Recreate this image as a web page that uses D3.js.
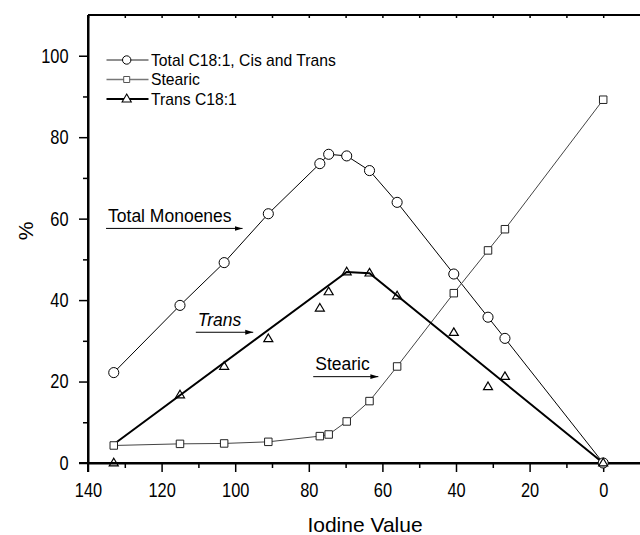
<!DOCTYPE html>
<html>
<head>
<meta charset="utf-8">
<script src="https://cdn.jsdelivr.net/npm/d3@7"></script>
<style>
  html, body { margin: 0; padding: 0; background: #fff; }
  svg { display: block; }
  .tick text { font-family: "Liberation Sans Narrow", "Arial Narrow", "Liberation Sans", Arial, sans-serif; }
</style>
</head>
<body>
<svg id="chart" width="640" height="535"></svg>
<script>
// ---- data ----
const iodineValues = [133, 115, 103, 91, 77, 74.6, 69.7, 63.5, 56, 40.6, 31.3, 26.7, 0];
const totalC181   = [22.2, 38.7, 49.2, 61.2, 73.5, 75.8, 75.4, 71.8, 64.0, 46.4, 35.8, 30.6, 0];
const stearic     = [4.3, 4.7, 4.8, 5.2, 6.6, 7.0, 10.2, 15.2, 23.7, 41.7, 52.2, 57.4, 89.2];
const transC181   = [0, 16.7, 23.7, 30.5, 38.0, 42.0, 46.9, 46.6, 41.0, 32.0, 18.7, 21.2, 0];
const transFitIV  = [133, 69.7, 63.5, 0];
const transFitVal = [4.6, 46.9, 46.6, 0];
const xMajorTicks = [140, 120, 100, 80, 60, 40, 20, 0];
const xMinorTicks = [130, 110, 90, 70, 50, 30, 10];
const yMajorTicks = [0, 20, 40, 60, 80, 100];
const yMinorTicks = [10, 30, 50, 70, 90];
const legendLabels = ["Total C18:1, Cis and Trans", "Stearic", "Trans C18:1"];
const annotations = [
  { text: "Total Monoenes", iv: 135.1, val: 57.6, ivEnd: 98.0, italic: false },
  { text: "Trans", iv: 110.7, val: 32.1, ivEnd: 95.1, italic: true },
  { text: "Stearic", iv: 78.8, val: 21.2, ivEnd: 61.1, italic: false }
];

// ---- layout ----
const svg = d3.select("#chart");
const mLeft = 88, mRight = 640, mTop = 15, mBottom = 463;
const x = d3.scaleLinear().domain([140, -10]).range([mLeft, mRight]);
const y = d3.scaleLinear().domain([0, 110]).range([mBottom, mTop]);
const font = "'Liberation Sans', Arial, sans-serif";

// arrow marker
svg.append("defs").append("marker")
  .attr("id", "arrow").attr("viewBox", "0 0 10 10")
  .attr("refX", 10).attr("refY", 5)
  .attr("markerWidth", 8).attr("markerHeight", 8)
  .attr("markerUnits", "userSpaceOnUse")
  .attr("orient", "auto")
  .append("path").attr("d", "M0,2 L10,5 L0,8 Z").attr("fill", "#000");

// top frame line
svg.append("line").attr("x1", mLeft).attr("x2", mRight).attr("y1", mTop).attr("y2", mTop)
  .attr("stroke", "#000").attr("stroke-width", 2);
const topAxis = svg.append("g").attr("transform", `translate(0,${mTop})`)
  .call(d3.axisTop(x).tickValues(xMajorTicks.concat(xMinorTicks)).tickSize(-3).tickFormat("").tickSizeOuter(0));
topAxis.select(".domain").remove();

// x axis
const xAxisG = svg.append("g").attr("transform", `translate(0,${mBottom})`)
  .call(d3.axisBottom(x).tickValues(xMajorTicks).tickSize(9).tickSizeOuter(0).tickPadding(11));
svg.append("g").attr("transform", `translate(0,${mBottom})`)
  .call(d3.axisBottom(x).tickValues(xMinorTicks).tickSize(5).tickFormat("").tickSizeOuter(0))
  .select(".domain").remove();
svg.append("line").attr("x1", mLeft - 9).attr("x2", mRight).attr("y1", mBottom).attr("y2", mBottom)
  .attr("stroke", "#000").attr("stroke-width", 2);

// y axis
const yAxisG = svg.append("g").attr("transform", `translate(${mLeft},0)`)
  .call(d3.axisLeft(y).tickValues(yMajorTicks).tickSize(9).tickSizeOuter(0).tickPadding(10.5));
svg.append("g").attr("transform", `translate(${mLeft},0)`)
  .call(d3.axisLeft(y).tickValues(yMinorTicks).tickSize(5).tickFormat("").tickSizeOuter(0))
  .select(".domain").remove();
svg.append("line").attr("x1", mLeft).attr("x2", mLeft).attr("y1", mTop).attr("y2", mBottom + 9)
  .attr("stroke", "#000").attr("stroke-width", 2);
svg.selectAll(".domain").attr("stroke-width", 2);
svg.selectAll(".tick line").attr("stroke-width", 1.5);

// narrow tick labels: scale horizontally to a condensed digit width (0.456em)
function condense(sel) {
  sel.each(function () {
    const t = d3.select(this).attr("font-size", 20);
    const w = this.getComputedTextLength();
    const target = this.textContent.length * 0.456 * 20;
    const k = w > 0 ? Math.min(1, target / w) : 1;
    const tx = +t.attr("x") || 0;
    t.attr("x", tx / k).attr("transform", `scale(${k},1)`);
  });
}
condense(xAxisG.selectAll(".tick text"));
condense(yAxisG.selectAll(".tick text"));

// axis titles
svg.append("text").attr("x", 365).attr("y", 532).attr("text-anchor", "middle")
  .attr("font-family", font).attr("font-size", 21).text("Iodine Value");
svg.append("text").attr("transform", "translate(33,231) rotate(-90)").attr("text-anchor", "middle")
  .attr("font-family", font).attr("font-size", 21).text("%");

// series
const lineGen = d3.line().x(d => x(d[0])).y(d => y(d[1]));
const totalPts = iodineValues.map((v, i) => [v, totalC181[i]]);
const stearPts = iodineValues.map((v, i) => [v, stearic[i]]);
const transPts = iodineValues.map((v, i) => [v, transC181[i]]);
const fitPts = transFitIV.map((v, i) => [v, transFitVal[i]]);

svg.append("path").attr("d", lineGen(totalPts)).attr("fill", "none").attr("stroke", "#000").attr("stroke-width", 1);
svg.append("path").attr("d", lineGen(stearPts)).attr("fill", "none").attr("stroke", "#444").attr("stroke-width", 1);
svg.append("path").attr("d", lineGen(fitPts)).attr("fill", "none").attr("stroke", "#000").attr("stroke-width", 2);

const circleSym = d3.symbol().type(d3.symbolCircle).size(80);
const squareSym = d3.symbol().type(d3.symbolSquare).size(56);
const triPath = "M0,-4.8 L4.5,2.8 L-4.5,2.8 Z";

svg.append("g").selectAll("path").data(totalPts).join("path")
  .attr("d", circleSym).attr("transform", d => `translate(${x(d[0])},${y(d[1])})`)
  .attr("fill", "#fff").attr("stroke", "#000").attr("stroke-width", 1);
svg.append("g").selectAll("path").data(stearPts).join("path")
  .attr("d", squareSym).attr("transform", d => `translate(${x(d[0])},${y(d[1])})`)
  .attr("fill", "#fff").attr("stroke", "#222").attr("stroke-width", 1);
svg.append("g").selectAll("path").data(transPts).join("path")
  .attr("d", triPath).attr("transform", d => `translate(${x(d[0])},${y(d[1])})`)
  .attr("fill", "none").attr("stroke", "#000").attr("stroke-width", 1.2);

// legend
const legendRows = [
  { y: 60, stroke: "#222", sw: 1 },
  { y: 79.5, stroke: "#777", sw: 1.3 },
  { y: 99, stroke: "#000", sw: 2 }
];
legendRows.forEach((r, i) => {
  svg.append("line").attr("x1", 106.5).attr("x2", 148.5).attr("y1", r.y).attr("y2", r.y)
    .attr("stroke", r.stroke).attr("stroke-width", r.sw);
  const g = svg.append("g").attr("transform", `translate(126.7,${r.y})`);
  if (i === 0) g.append("path").attr("d", d3.symbol().type(d3.symbolCircle).size(55)).attr("fill", "#fff").attr("stroke", "#000");
  if (i === 1) g.append("path").attr("d", d3.symbol().type(d3.symbolSquare).size(36)).attr("fill", "#fff").attr("stroke", "#555");
  if (i === 2) g.append("path").attr("d", "M0,-5 L4.6,3 L-4.6,3 Z").attr("fill", "#fff").attr("stroke", "#000").attr("stroke-width", 1.1);
  svg.append("text").attr("x", 151).attr("y", r.y).attr("dy", "0.36em")
    .attr("font-family", font).attr("font-size", 15.7).text(legendLabels[i]);
});

// annotations with arrows
annotations.forEach(a => {
  const x0 = x(a.iv), x1 = x(a.ivEnd), yy = y(a.val);
  svg.append("text").attr("x", x0 + 2).attr("y", yy - 6.5)
    .attr("font-family", font).attr("font-size", 17.5)
    .attr("font-style", a.italic ? "italic" : "normal").text(a.text);
  svg.append("line").attr("x1", x0).attr("x2", x1).attr("y1", yy).attr("y2", yy)
    .attr("stroke", "#000").attr("stroke-width", 1).attr("marker-end", "url(#arrow)");
});
</script>
</body>
</html>
